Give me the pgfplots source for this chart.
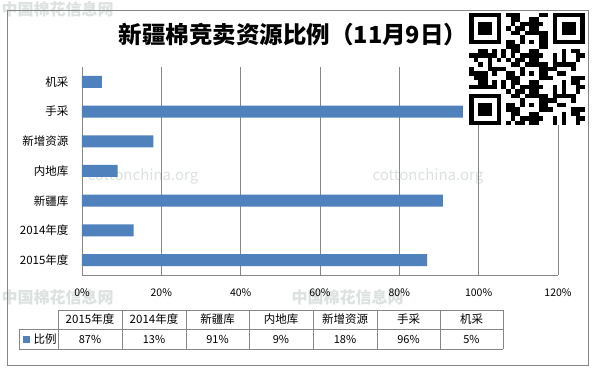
\documentclass[border=0pt]{standalone}
\usepackage{pgfplots}
\pgfplotsset{compat=1.18}
\usepackage{fontspec}
\setmainfont{Noto Sans CJK SC}
\definecolor{barblue}{HTML}{4F81BD}
\definecolor{gridgray}{HTML}{868686}
\definecolor{wm}{HTML}{DCE2E0}
\begin{document}
\begin{tikzpicture}[x=1pt,y=1pt]
\useasboundingbox (0,0) rectangle (595,374);
\fill[white] (0,0) rectangle (595,374);
% watermarks
\node[text=wm,font=\fontsize{16}{16}\selectfont\bfseries,anchor=west] at (-2,365) {中国棉花信息网};
\node[text=wm,font=\fontsize{16}{16}\selectfont\bfseries,anchor=west] at (-2,77) {中国棉花信息网};
\node[text=wm,font=\fontsize{16}{16}\selectfont\bfseries,anchor=west] at (288,77) {中国棉花信息网};
\node[text=wm,font=\fontsize{15}{15}\selectfont,anchor=west] at (84,198) {cottonchina.org};
\node[text=wm,font=\fontsize{15}{15}\selectfont,anchor=west] at (369,198) {cottonchina.org};
% outer border
\draw[gridgray,line width=0.8pt] (7,364) rectangle (588,9);
% title
\node[font=\fontsize{23.5}{23.5}\selectfont\bfseries] at (293,339) {新疆棉竞卖资源比例（11月9日）};
\begin{axis}[
  at={(82pt,99pt)}, anchor=south west,
  scale only axis, width=476pt, height=208pt,
  xmin=0, xmax=120, ymin=-0.5, ymax=6.5,
  xtick={0,20,...,120},
  xticklabel={\pgfmathprintnumber{\tick}\%},
  /pgf/number format/assume math mode=true,
  ytick={0,...,6},
  yticklabels={2015年度,2014年度,新疆库,内地库,新增资源,手采,机采},
  major tick length=0pt,
  xmajorgrids, grid style={gridgray,line width=0.6pt},
  axis x line=bottom, axis y line=left,
  axis line style={gridgray,line width=0.6pt,-},
  xticklabel style={font=\fontsize{10.5}{10.5}\selectfont, anchor=center, yshift=-18pt},
  yticklabel style={font=\fontsize{11.5}{11.5}\selectfont, anchor=east, xshift=-10pt},
  clip=false,
]
\addplot[xbar, bar width=12pt, bar shift=0pt, fill=barblue, draw=none]
  coordinates {(87,0) (13,1) (91,2) (9,3) (18,4) (96,5) (5,6)};
\end{axis}
% data table
\begin{scope}[gridgray, line width=0.6pt]
\draw (58,64) -- (503,64);
\draw (19,45) -- (503,45);
\draw (19,25) -- (503,25);
\draw (19,45) -- (19,25);
\foreach \x in {58,122,186,249,313,377,440,503} \draw (\x,64) -- (\x,25);
\end{scope}
\foreach \x/\h/\v in {90/2015年度/87\%, 154/2014年度/13\%, 217.5/新疆库/91\%, 281/内地库/9\%, 345/新增资源/18\%, 408.5/手采/96\%, 471.5/机采/5\%}{
  \node[font=\fontsize{11.5}{11.5}\selectfont] at (\x,54.5) {\h};
  \node[font=\fontsize{11}{11}\selectfont] at (\x,35) {\v};
}
\fill[barblue] (23,38) rectangle (30,31);
\node[font=\fontsize{11.5}{11.5}\selectfont,anchor=west] at (30,35) {比例};
% QR-like decoration
\begin{scope}[shift={(469,361)}]
\fill[white] (0,0) rectangle (116,-112);
\def\m{4.64}\def\n{4.48}
\foreach \i in {0,...,24}{
  \foreach \j in {0,...,24}{
    \pgfmathtruncatemacro{\inf}{(\i<8 && \j<8) || (\i>16 && \j<8) || (\i<8 && \j>16) ? 1 : 0}
    \ifnum\inf=0
      \pgfmathtruncatemacro{\b}{mod(mod(\i*\i,11)*\j*5+\j*\j*11+\i*13+\j*5+\i*\j*3+3,7)<3 ? 1 : 0}
      \ifnum\b=1
        \fill[black] (\i*\m,-\j*\n) rectangle ({(\i+1)*\m},{-(\j+1)*\n});
      \fi
    \fi
  }
}
\foreach \ox/\oy in {0/0,18/0,0/18}{
  \fill[black] (\ox*\m,-\oy*\n) rectangle ({(\ox+7)*\m},{-(\oy+7)*\n});
  \fill[white] ({(\ox+1)*\m},{-(\oy+1)*\n}) rectangle ({(\ox+6)*\m},{-(\oy+6)*\n});
  \fill[black] ({(\ox+2)*\m},{-(\oy+2)*\n}) rectangle ({(\ox+5)*\m},{-(\oy+5)*\n});
}
\end{scope}
\end{tikzpicture}
\end{document}
